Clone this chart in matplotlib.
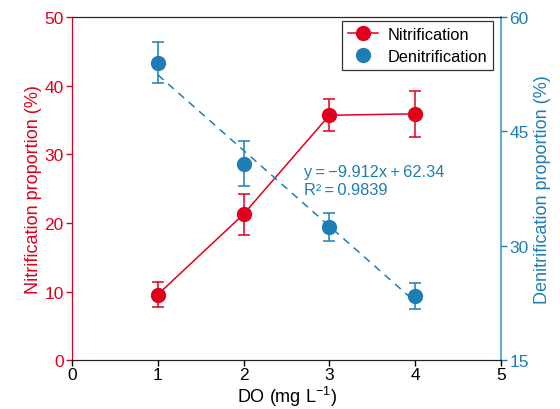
import matplotlib
matplotlib.use("Agg")
import matplotlib.pyplot as plt
from matplotlib.lines import Line2D
import numpy as np

plt.rcParams["font.family"] = ["Liberation Sans", "DejaVu Sans"]
plt.rcParams["mathtext.fontset"] = "custom"
plt.rcParams["mathtext.rm"] = "Liberation Sans"
plt.rcParams["mathtext.it"] = "Liberation Sans:italic"

# data
do_levels = [1, 2, 3, 4]
nitrification = [9.6, 21.3, 35.7, 35.9]
nitrification_err = [1.8, 3.0, 2.3, 3.3]
denitrification = [54.0, 40.8, 32.5, 23.4]
denitrification_err = [2.7, 2.9, 1.8, 1.7]
fit_slope = -9.912
fit_intercept = 62.34
fit_r2 = 0.9839

RED = "#e0001b"
BLUE = "#1f7db5"
BLUE_AXIS = "#3f98cf"

fig = plt.figure(figsize=(5.6, 4.1), dpi=100)
ax = fig.add_axes([0.1286, 0.1183, 0.766, 0.8378])
ax2 = ax.twinx()

ax.errorbar(do_levels, nitrification, yerr=nitrification_err, color=RED,
            marker="o", markersize=10, lw=1.1, capsize=4.5, elinewidth=1.1,
            capthick=1.1)

fit_x = np.array([do_levels[0], do_levels[-1]])
ax2.plot(fit_x, fit_slope * fit_x + fit_intercept, ls=(0, (5, 4)), color=BLUE, lw=1.1)
ax2.errorbar(do_levels, denitrification, yerr=denitrification_err, color=BLUE,
             marker="o", markersize=10, ls="none", capsize=4.5, elinewidth=1.1,
             capthick=1.1)
ax2.text(2.70, 39.8, "y\u2009=\u2009\u22129.912x\u2009+\u200962.34", color=BLUE,
         fontsize=11.8, va="center")
ax2.text(2.70, 37.4, f"R\u00b2\u2009=\u2009{fit_r2}", color=BLUE, fontsize=11.8, va="center")

ax.set_xlim(0, 5)
ax.set_ylim(0, 50)
ax2.set_ylim(15, 60)
ax.set_xticks(range(0, 6))
ax.set_yticks(range(0, 51, 10))
ax2.set_yticks([15, 30, 45, 60])

ax.set_xlabel("DO (mg L$^{-1}$)", fontsize=13, labelpad=1)
ax.set_ylabel("Nitrification proportion (%)", fontsize=13, color=RED, labelpad=2)
ax2.set_ylabel("Denitrification proportion (%)", fontsize=13, color=BLUE, labelpad=4)

for a in (ax, ax2):
    a.tick_params(direction="out", length=4, width=1, labelsize=12.5)
ax.tick_params(axis="y", colors=RED, pad=2)
ax2.tick_params(axis="y", colors=BLUE, pad=2)
ax.tick_params(axis="x", colors="black", pad=1)

ax2.spines["left"].set_color(RED)
ax2.spines["right"].set_color(BLUE_AXIS)
ax2.spines["right"].set_linewidth(1.2)
ax.spines["left"].set_color(RED)
ax.spines["right"].set_visible(False)
for a in (ax, ax2):
    a.spines["top"].set_color("#222222")
    a.spines["bottom"].set_color("#222222")

handles = [
    Line2D([], [], color=RED, marker="o", markersize=10, lw=1.1, label="Nitrification"),
    Line2D([], [], color=BLUE, marker="o", markersize=10, ls="none", label="Denitrification"),
]
leg = ax2.legend(handles=handles, loc="upper right", fontsize=11.8, frameon=True,
                 fancybox=False, edgecolor="black", handlelength=1.8,
                 bbox_to_anchor=(0.981, 0.988), borderaxespad=0, borderpad=0.35,
                 labelspacing=0.45, handletextpad=0.6)
leg.get_frame().set_linewidth(0.9)

fig.savefig("out.png", dpi=100)
